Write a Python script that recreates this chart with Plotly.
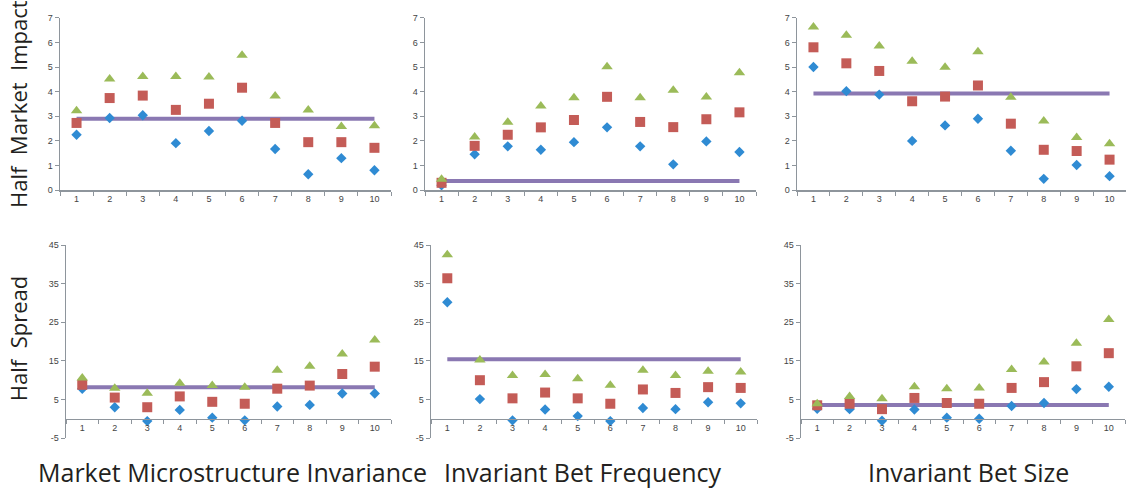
import plotly.graph_objects as go

W, H = 1126, 497

categories = ["1", "2", "3", "4", "5", "6", "7", "8", "9", "10"]

# Top row: Half Market Impact
mi_mmi_blue = [2.25, 2.93, 3.04, 1.91, 2.40, 2.82, 1.67, 0.65, 1.30, 0.81]
mi_mmi_red = [2.73, 3.74, 3.84, 3.26, 3.51, 4.16, 2.73, 1.95, 1.95, 1.72]
mi_mmi_green = [3.22, 4.51, 4.61, 4.61, 4.59, 5.48, 3.82, 3.26, 2.59, 2.62]
mi_mmi_line = 2.90

mi_freq_blue = [0.20, 1.46, 1.78, 1.64, 1.95, 2.55, 1.78, 1.05, 1.98, 1.55]
mi_freq_red = [0.30, 1.80, 2.25, 2.55, 2.85, 3.79, 2.77, 2.56, 2.88, 3.16]
mi_freq_green = [0.44, 2.16, 2.76, 3.42, 3.75, 5.01, 3.75, 4.06, 3.78, 4.77]
mi_freq_line = 0.37

mi_size_blue = [5.00, 4.02, 3.88, 2.00, 2.63, 2.90, 1.60, 0.46, 1.02, 0.57]
mi_size_red = [5.80, 5.15, 4.84, 3.61, 3.80, 4.25, 2.70, 1.64, 1.59, 1.24]
mi_size_green = [6.62, 6.29, 5.85, 5.23, 4.99, 5.62, 3.77, 2.81, 2.14, 1.89]
mi_size_line = 3.93

# Bottom row: Half Spread
sp_mmi_blue = [7.8, 3.0, -0.6, 2.3, 0.3, -0.4, 3.2, 3.6, 6.55, 6.55]
sp_mmi_red = [8.8, 5.5, 3.0, 5.8, 4.4, 3.9, 7.8, 8.6, 11.6, 13.5]
sp_mmi_green = [10.6, 7.9, 6.6, 9.2, 8.6, 8.2, 12.6, 13.6, 16.8, 20.4]
sp_mmi_line = 8.15

sp_freq_blue = [30.2, 5.1, -0.4, 2.4, 0.7, -0.6, 2.8, 2.5, 4.3, 4.0]
sp_freq_red = [36.4, 10.0, 5.3, 6.8, 5.3, 3.9, 7.6, 6.7, 8.2, 8.0]
sp_freq_green = [42.5, 15.2, 11.2, 11.5, 10.4, 8.7, 12.6, 11.2, 12.3, 12.1]
sp_freq_line = 15.4

sp_size_blue = [2.6, 2.5, -0.5, 2.4, 0.3, 0.0, 3.3, 4.1, 7.7, 8.3]
sp_size_red = [3.5, 3.9, 2.5, 5.4, 4.1, 3.9, 8.0, 9.5, 13.6, 17.0]
sp_size_green = [3.9, 5.8, 5.2, 8.3, 7.8, 8.0, 12.8, 14.7, 19.6, 25.7]
sp_size_line = 3.6

top_yticks = [0, 1, 2, 3, 4, 5, 6, 7]
bot_yticks = [-5, 5, 15, 25, 35, 45]
bot_yticklabels = ["-5", "5", "15", "25", "35", "45"]

row_titles = ["Half  Market  Impact", "Half  Spread"]
col_titles = ["Market Microstructure Invariance", "Invariant Bet Frequency", "Invariant Bet Size"]

BLUE = "#2F8BD3"
RED = "#C45C57"
GREEN = "#9BBB59"
PURPLE = "#8A78B2"
AXIS = "#8E959C"
TICKFONT = dict(family="Liberation Sans, Arial, sans-serif", size=9, color="#444444")

panels = [
    (mi_mmi_blue, mi_mmi_red, mi_mmi_green, mi_mmi_line),
    (mi_freq_blue, mi_freq_red, mi_freq_green, mi_freq_line),
    (mi_size_blue, mi_size_red, mi_size_green, mi_size_line),
    (sp_mmi_blue, sp_mmi_red, sp_mmi_green, sp_mmi_line),
    (sp_freq_blue, sp_freq_red, sp_freq_green, sp_freq_line),
    (sp_size_blue, sp_size_red, sp_size_green, sp_size_line),
]

def px_x(a, b):
    return [a / W, min(b / W, 1.0)]

def px_y(top, bottom):
    return [1 - bottom / H, 1 - top / H]

x_domains = [px_x(60, 391), px_x(425, 756), px_x(797, 1126),
             px_x(66, 391), px_x(431, 757), px_x(801, 1125)]
top_ydom = px_y(13, 189)
bot_ydom = px_y(245, 442)
zero_pos = 1 - (442 - 197 / 50 * 5) / H

fig = go.Figure()
layout = dict(
    width=W, height=H, margin=dict(l=0, r=0, t=0, b=0),
    paper_bgcolor="white", plot_bgcolor="white", showlegend=False,
)

for i, (b, r, g, ln) in enumerate(panels):
    n = i + 1
    xa = "x" if n == 1 else f"x{n}"
    ya = "y" if n == 1 else f"y{n}"
    fig.add_trace(go.Scatter(x=categories, y=[ln] * len(categories), mode="lines",
                             line=dict(color=PURPLE, width=4), xaxis=xa, yaxis=ya,
                             cliponaxis=False))
    fig.add_trace(go.Scatter(x=categories, y=b, mode="markers", cliponaxis=False,
                             marker=dict(symbol="diamond", size=8, color=BLUE), xaxis=xa, yaxis=ya))
    fig.add_trace(go.Scatter(x=categories, y=r, mode="markers", cliponaxis=False,
                             marker=dict(symbol="square", size=10, color=RED), xaxis=xa, yaxis=ya))
    fig.add_trace(go.Scatter(x=categories, y=g, mode="markers", cliponaxis=False,
                             marker=dict(symbol="triangle-up", size=10, color=GREEN), xaxis=xa, yaxis=ya))

    xkey = "xaxis" if n == 1 else f"xaxis{n}"
    ykey = "yaxis" if n == 1 else f"yaxis{n}"
    top = n <= 3
    xdict = dict(domain=x_domains[i], type="category", range=[-0.5, 9.5],
                 tickson="boundaries", ticks="outside", ticklen=4, tickcolor=AXIS,
                 showline=True, linecolor=AXIS, linewidth=1.5, showgrid=False,
                 zeroline=False, tickfont=TICKFONT, fixedrange=True)
    if top:
        xdict["anchor"] = ya
    else:
        xdict["anchor"] = "free"
        xdict["position"] = zero_pos
    layout[xkey] = xdict
    ydict = dict(domain=top_ydom if top else bot_ydom, anchor=xa,
                 showline=True, linecolor=AXIS, linewidth=1.5, ticks="outside",
                 ticklen=4, tickcolor=AXIS, showgrid=False, zeroline=False,
                 tickfont=TICKFONT, fixedrange=True, tickmode="array")
    if top:
        ydict.update(range=[0, 7], tickvals=top_yticks)
    else:
        ydict.update(range=[-5, 45], tickvals=bot_yticks, ticktext=bot_yticklabels)
    layout[ykey] = ydict

TITLEFONT = dict(family="Open Sans, sans-serif", size=22, color="#231F20")
annotations = [
    dict(text=row_titles[0], x=18 / W, y=1 - 101 / H, xref="paper", yref="paper",
         textangle=-90, showarrow=False, font=TITLEFONT, xanchor="center", yanchor="middle"),
    dict(text=row_titles[1], x=18 / W, y=1 - 341 / H, xref="paper", yref="paper",
         textangle=-90, showarrow=False, font=TITLEFONT, xanchor="center", yanchor="middle"),
]
for cx, t in zip([232, 583, 968], col_titles):
    annotations.append(dict(text=t, x=cx / W, y=1 - 477 / H, xref="paper", yref="paper",
                            showarrow=False, font=dict(family="Open Sans, sans-serif", size=25, color="#231F20"),
                            xanchor="center", yanchor="middle"))
layout["annotations"] = annotations

fig.update_layout(**layout)
fig.write_html("out.html", config={"displayModeBar": False, "staticPlot": True},
               post_script="document.body.style.margin='0';")
